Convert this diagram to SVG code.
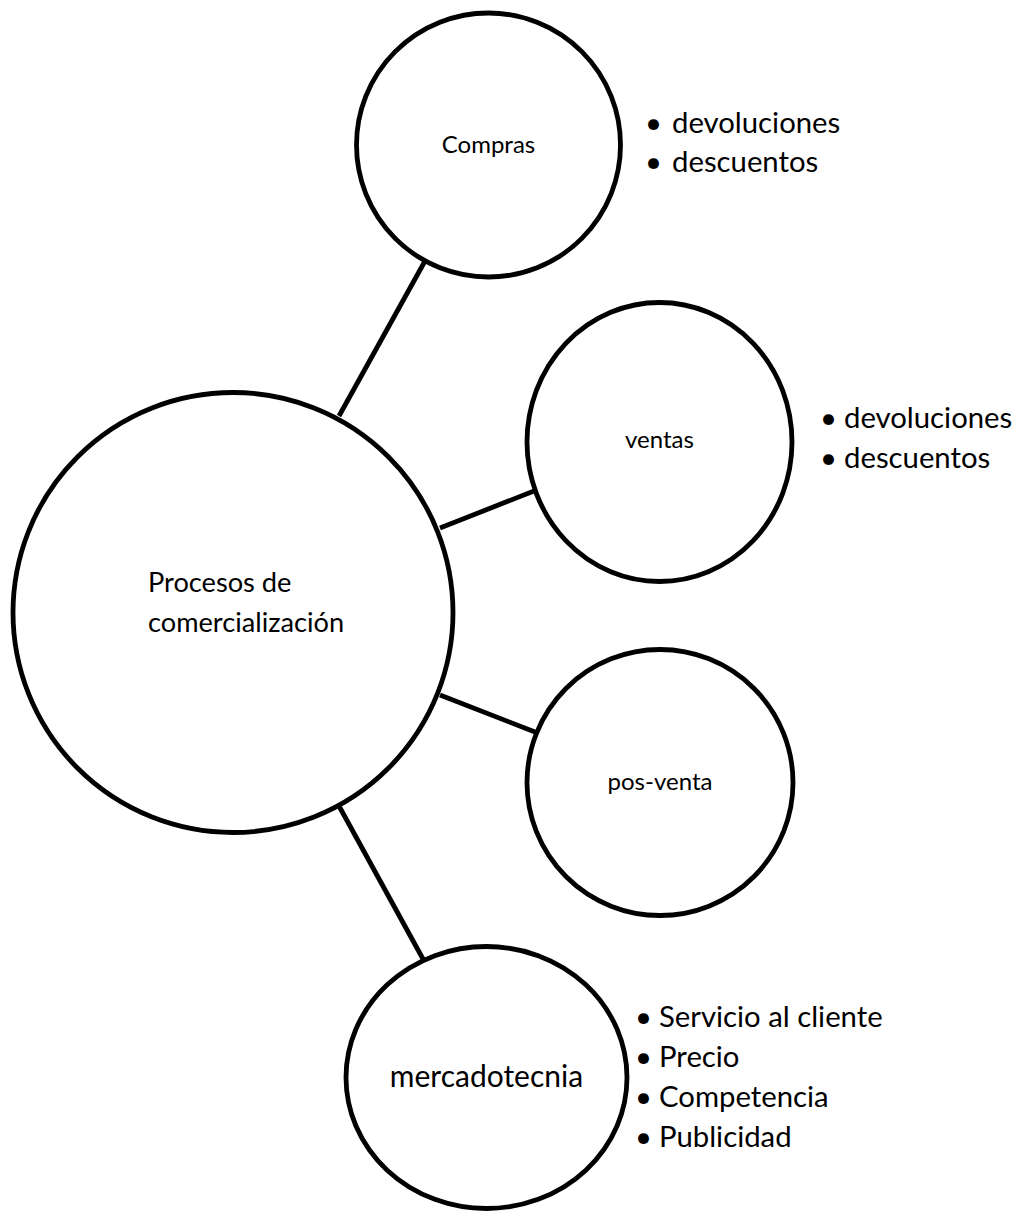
<svg xmlns="http://www.w3.org/2000/svg" width="1019" height="1212" viewBox="0 0 1019 1212">
  <style>
    .node { fill: #ffffff; stroke: #000000; stroke-width: 4.8; }
    .link { stroke: #000000; stroke-width: 4.8; stroke-linecap: butt; fill: none; }
    text { font-family: Lato, "Open Sans", "Liberation Sans", sans-serif; fill: #000000; }
    .small { font-size: 24px; text-anchor: middle; }
    .main { font-size: 27.2px; }
    .big { font-size: 30px; }
    .item { font-size: 29.3px; }
  </style>
  <rect x="0" y="0" width="1019" height="1212" fill="#ffffff"/>

  <!-- connectors between the central circle and the four satellites -->
  <g id="connectors">
    <line class="link" x1="339" y1="416" x2="425" y2="261"/>
    <line class="link" x1="440" y1="528" x2="534" y2="491"/>
    <line class="link" x1="440" y1="695" x2="535" y2="732"/>
    <line class="link" x1="339" y1="806" x2="423" y2="959"/>
  </g>

  <!-- central node -->
  <g id="node-procesos">
    <circle class="node" cx="233" cy="612.5" r="220"/>
    <text class="main" x="148" y="592">Procesos de</text>
    <text class="main" x="148" y="632">comercialización</text>
  </g>

  <g id="node-compras">
    <circle class="node" cx="488.5" cy="145" r="132"/>
    <text class="small" x="488.5" y="153">Compras</text>
  </g>

  <g id="node-ventas">
    <ellipse class="node" cx="659.5" cy="442" rx="132.5" ry="139.5"/>
    <text class="small" x="659.5" y="448">ventas</text>
  </g>

  <g id="node-posventa">
    <circle class="node" cx="660" cy="782.5" r="133"/>
    <text class="small" x="660" y="790">pos-venta</text>
  </g>

  <g id="node-mercadotecnia">
    <ellipse class="node" cx="486.5" cy="1077.5" rx="140.5" ry="131"/>
    <text class="big" x="486.5" y="1087" text-anchor="middle">mercadotecnia</text>
  </g>

  <!-- bullet lists beside the satellites -->
  <g id="list-compras" class="item">
    <text x="645" y="133"><tspan>•</tspan><tspan x="672">devoluciones</tspan></text>
    <text x="645" y="172"><tspan>•</tspan><tspan x="672">descuentos</tspan></text>
  </g>

  <g id="list-ventas" class="item">
    <text x="820" y="428"><tspan>•</tspan><tspan x="844">devoluciones</tspan></text>
    <text x="820" y="468"><tspan>•</tspan><tspan x="844">descuentos</tspan></text>
  </g>

  <g id="list-mercadotecnia" class="item">
    <text x="635" y="1027"><tspan>•</tspan><tspan x="659">Servicio al cliente</tspan></text>
    <text x="635" y="1067"><tspan>•</tspan><tspan x="659">Precio</tspan></text>
    <text x="635" y="1107"><tspan>•</tspan><tspan x="659">Competencia</tspan></text>
    <text x="635" y="1147"><tspan>•</tspan><tspan x="659">Publicidad</tspan></text>
  </g>
</svg>
